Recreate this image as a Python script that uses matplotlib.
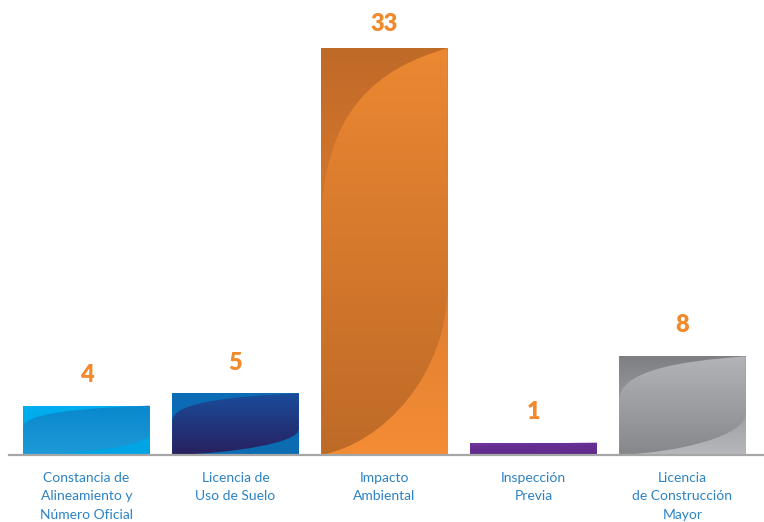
import numpy as np
import matplotlib
matplotlib.use('Agg')
import matplotlib.pyplot as plt
from matplotlib.path import Path
from matplotlib.patches import PathPatch
from matplotlib.colors import LinearSegmentedColormap

# =============================================================================
# data
# =============================================================================
categories = ['Constancia de\nAlineamiento y\nNúmero Oficial',
              'Licencia de\nUso de Suelo',
              'Impacto\nAmbiental',
              'Inspección\nPrevia',
              'Licencia\nde Construcción\nMayor']
values = [4, 5, 33, 1, 8]

# (outer top, outer bottom, lens top, lens bottom)
bar_colors = [('#00AEEF', '#00A3E3', '#0A88CE', '#1E9AD7'),
              ('#0C6CB6', '#0B6DB2', '#1A4C9B', '#28205E'),
              ('#C06A28', '#F48C35', '#EC8832', '#BE6A27'),
              ('#7436A0', '#5C2888', '#6A3096', '#5E2A8A'),
              ('#7E7F83', '#B7B8BC', '#B3B4B8', '#86878B')]

label_orange = '#F08A2C'
text_blue = '#2B82C5'

plt.rcParams['font.family'] = ['Lato', 'DejaVu Sans']

fig = plt.figure(figsize=(7.64, 5.22), dpi=100)
ax = fig.add_axes([9/764, 67/522, 755/764, 455/522])

ymax = 455 / (407 / 33)
x = np.arange(len(values))
bars = ax.bar(x, values, width=0.85, color='none', edgecolor='none')


def vgrad(c_top, c_bot):
    return LinearSegmentedColormap.from_list('g', [c_bot, c_top])

grad = np.linspace(0, 1, 256).reshape(-1, 1)

for b, cols in zip(bars, bar_colors):
    x0, w, h = b.get_x(), b.get_width(), b.get_height()
    ext = [x0, x0 + w, 0, h]
    im = ax.imshow(grad, cmap=vgrad(cols[0], cols[1]), extent=ext, origin='lower',
                   aspect='auto', zorder=2, interpolation='bilinear')
    im.set_clip_path(b)
    # gloss lens from bottom-left to top-right corner (bar-relative coords)
    def m(u, v):
        return (x0 + u * w, v * h)
    verts = [m(0, 0), m(0, 0.55), m(0, 0.85), m(0.45, 0.95), m(1, 1),
             m(1, 0.42), m(1, 0.2), m(0.5, 0.03), m(0, 0)]
    codes = [Path.MOVETO, Path.LINETO, Path.CURVE4, Path.CURVE4, Path.CURVE4,
             Path.LINETO, Path.CURVE4, Path.CURVE4, Path.CURVE4]
    lens = PathPatch(Path(verts, codes), facecolor='none', edgecolor='none')
    ax.add_patch(lens)
    im2 = ax.imshow(grad, cmap=vgrad(cols[2], cols[3]), extent=ext, origin='lower',
                    aspect='auto', zorder=3, interpolation='bilinear')
    im2.set_clip_path(lens)
    ly = min(h + 2.5, ymax - 1.95)
    ax.text(b.get_x() + w / 2, ly, str(int(h)), ha='center', va='center',
            color=label_orange, fontsize=17, fontweight='heavy')

ax.set_xlim(-0.52, -0.52 + 755 / 149)
ax.set_ylim(0, ymax)

for s in ['top', 'right', 'left']:
    ax.spines[s].set_visible(False)
ax.spines['bottom'].set_color('#A6A6A6')
ax.spines['bottom'].set_linewidth(1.6)
ax.spines['bottom'].set_zorder(5)
ax.set_yticks([])
ax.set_xticks(x)
ax.set_xticklabels(categories, color=text_blue, fontsize=10, linespacing=1.65)
ax.tick_params(axis='x', length=0, pad=12)

fig.savefig('out.png', dpi=100)
